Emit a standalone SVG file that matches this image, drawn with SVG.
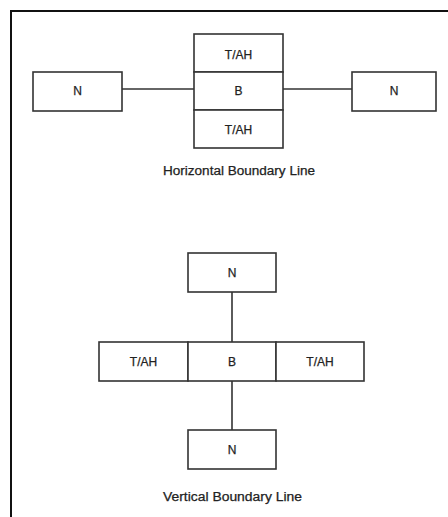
<svg xmlns="http://www.w3.org/2000/svg" width="448" height="517" viewBox="0 0 448 517">
<style>
.box{fill:#fff;stroke:#333;stroke-width:1.6}
.ln{stroke:#333;stroke-width:1.6;fill:none}
.t{font-family:"Liberation Sans",Arial,sans-serif;font-size:12px;fill:#222;stroke:#222;stroke-width:0.25;text-anchor:middle}
.cap{font-family:"Liberation Sans",Arial,sans-serif;font-size:12.5px;fill:#222;stroke:#222;stroke-width:0.25;text-anchor:middle}
</style>
<rect width="448" height="517" fill="#fff"/>
<path d="M11,517 V11 H448" fill="none" stroke="#111" stroke-width="2"/>
<g id="connectors">
<line class="ln" x1="122" y1="89" x2="194" y2="89"/>
<line class="ln" x1="283" y1="89" x2="352" y2="89"/>
<line class="ln" x1="232" y1="292" x2="232" y2="342"/>
<line class="ln" x1="232" y1="381" x2="232" y2="430"/>
</g>
<g id="h-left-n"><rect class="box" x="33" y="72" width="89" height="39"/><text class="t" x="77.5" y="95">N</text></g>
<g id="h-top-tah"><rect class="box" x="194" y="34" width="89" height="38"/><text class="t" x="238.5" y="59">T/AH</text></g>
<g id="h-b"><rect class="box" x="194" y="72" width="89" height="38"/><text class="t" x="238.5" y="95">B</text></g>
<g id="h-bottom-tah"><rect class="box" x="194" y="110" width="89" height="38"/><text class="t" x="238.5" y="134">T/AH</text></g>
<g id="h-right-n"><rect class="box" x="352" y="72" width="84" height="39"/><text class="t" x="394" y="95">N</text></g>
<text class="cap" x="239" y="175" textLength="152" lengthAdjust="spacingAndGlyphs">Horizontal Boundary Line</text>
<g id="v-top-n"><rect class="box" x="188" y="253" width="88" height="39"/><text class="t" x="232" y="277">N</text></g>
<g id="v-left-tah"><rect class="box" x="99" y="342" width="89" height="39"/><text class="t" x="143.5" y="366">T/AH</text></g>
<g id="v-b"><rect class="box" x="188" y="342" width="88" height="39"/><text class="t" x="232" y="366">B</text></g>
<g id="v-right-tah"><rect class="box" x="276" y="342" width="88" height="39"/><text class="t" x="320" y="366">T/AH</text></g>
<g id="v-bottom-n"><rect class="box" x="188" y="430" width="88" height="39"/><text class="t" x="232" y="454">N</text></g>
<text class="cap" x="232.5" y="501" textLength="139" lengthAdjust="spacingAndGlyphs">Vertical Boundary Line</text>
</svg>
